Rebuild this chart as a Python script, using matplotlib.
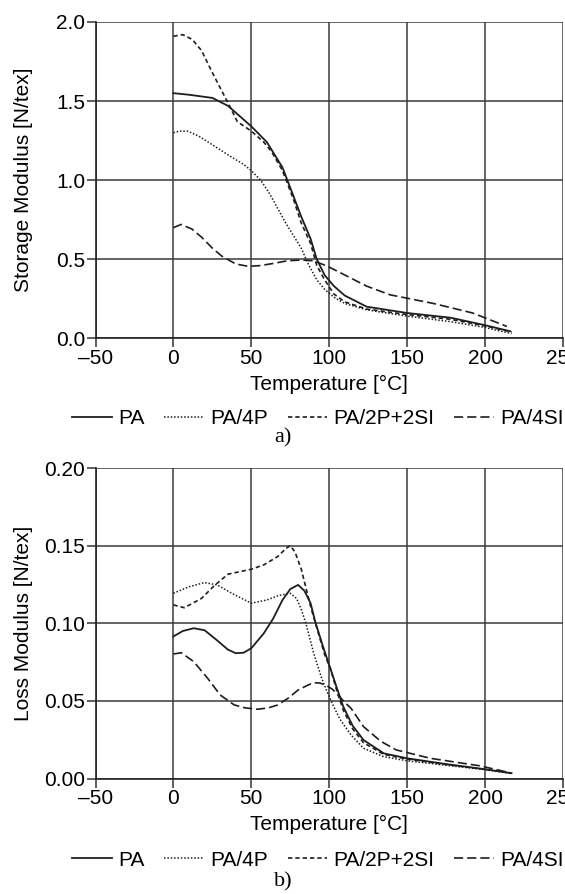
import matplotlib
matplotlib.use("Agg")
import matplotlib.pyplot as plt

# ---------------- data ----------------
series_names = ["PA", "PA/4P", "PA/2P+2SI", "PA/4SI"]

# Storage modulus (N/tex)
sm_pa_T = [0, 10, 25, 35, 50, 60, 70, 77, 82, 88, 92, 97, 103, 110, 124, 150, 178, 199, 216]
sm_pa_E = [1.55, 1.54, 1.52, 1.47, 1.34, 1.24, 1.08, 0.90, 0.77, 0.63, 0.50, 0.40, 0.33, 0.27, 0.20, 0.16, 0.13, 0.085, 0.045]

sm_4p_T = [0, 4, 9, 16, 24, 35, 45, 50, 56, 62, 67, 72, 77, 82, 87, 92, 97, 103, 110, 124, 150, 178, 199, 217]
sm_4p_E = [1.30, 1.31, 1.31, 1.28, 1.23, 1.16, 1.10, 1.06, 1.00, 0.91, 0.82, 0.73, 0.65, 0.57, 0.46, 0.37, 0.31, 0.26, 0.22, 0.18, 0.14, 0.105, 0.07, 0.03]

sm_2p2si_T = [0, 6, 12, 18, 26, 36, 41, 50, 58, 63, 70, 77, 82, 88, 92, 97, 103, 110, 124, 150, 178, 199, 217]
sm_2p2si_E = [1.91, 1.92, 1.89, 1.82, 1.66, 1.47, 1.37, 1.31, 1.24, 1.18, 1.06, 0.88, 0.73, 0.60, 0.46, 0.37, 0.28, 0.23, 0.185, 0.15, 0.12, 0.08, 0.04]

sm_4si_T = [0, 5, 12, 18, 25, 31, 40, 48, 56, 65, 73, 82, 90, 99, 110, 124, 139, 167, 192, 214]
sm_4si_E = [0.70, 0.72, 0.69, 0.64, 0.57, 0.52, 0.47, 0.455, 0.46, 0.475, 0.49, 0.495, 0.49, 0.455, 0.40, 0.33, 0.275, 0.22, 0.16, 0.075]

# Loss modulus (N/tex)
lm_pa_T = [0, 6, 13, 20, 28, 35, 40, 45, 50, 58, 64, 70, 75, 80, 84, 88, 91, 96, 101, 105, 109, 115, 122, 135, 150, 175, 199, 217]
lm_pa_E = [0.0915, 0.095, 0.0968, 0.0955, 0.089, 0.083, 0.0807, 0.081, 0.0839, 0.0935, 0.103, 0.115, 0.122, 0.1247, 0.121, 0.113, 0.101, 0.085, 0.070, 0.058, 0.0463, 0.034, 0.0248, 0.0162, 0.013, 0.0093, 0.0061, 0.0034]

lm_4p_T = [0, 10, 20, 28, 38, 50, 60, 68, 75, 79, 82, 85, 90, 95, 99, 103, 107, 114, 122, 135, 150, 175, 199, 217]
lm_4p_E = [0.1193, 0.1235, 0.1262, 0.1247, 0.119, 0.1129, 0.115, 0.118, 0.1193, 0.116, 0.109, 0.100, 0.0807, 0.065, 0.0549, 0.046, 0.038, 0.028, 0.0195, 0.014, 0.0114, 0.0085, 0.0058, 0.0032]

lm_2p2si_T = [0, 7, 18, 26, 35, 50, 58, 67, 72, 75, 78, 82, 88, 92, 97, 101, 105, 109, 115, 122, 135, 150, 175, 199, 217]
lm_2p2si_E = [0.1118, 0.110, 0.116, 0.124, 0.1316, 0.1348, 0.1376, 0.143, 0.148, 0.150, 0.146, 0.135, 0.111, 0.097, 0.080, 0.070, 0.056, 0.044, 0.032, 0.023, 0.0155, 0.0125, 0.009, 0.006, 0.0035]

lm_4si_T = [0, 5, 13, 22, 30, 39, 46, 54, 61, 67, 74, 80, 86, 90, 94, 98, 102, 105, 110, 114, 122, 133, 143, 165, 197, 216]
lm_4si_E = [0.0802, 0.081, 0.0753, 0.0645, 0.0538, 0.0474, 0.0455, 0.0446, 0.0455, 0.0474, 0.052, 0.057, 0.060, 0.0617, 0.0615, 0.060, 0.0575, 0.0545, 0.049, 0.0452, 0.0334, 0.024, 0.0184, 0.013, 0.0081, 0.0037]

x_ticks = [-50, 0, 50, 100, 150, 200, 250]
sm_ticks = [0.0, 0.5, 1.0, 1.5, 2.0]
lm_ticks = [0.00, 0.05, 0.10, 0.15, 0.20]

# ---------------- styling ----------------
plt.rcParams['font.family'] = ['Liberation Sans', 'DejaVu Sans']
FS = 15
LC = '#1e1e1e'
styles = {
    "PA": dict(linestyle='-', lw=1.3),
    "PA/4P": dict(linestyle=(0, (1.0, 1.2)), lw=1.1),
    "PA/2P+2SI": dict(linestyle=(0, (2.6, 1.8)), lw=1.2),
    "PA/4SI": dict(linestyle=(0, (5.5, 2.4)), lw=1.2),
}

fig = plt.figure(figsize=(5.65, 8.94), dpi=100)
L, R = 95.5 / 565, 563 / 565
ax1 = fig.add_axes([L, 1 - 338.3 / 894, R - L, (338.3 - 22) / 894])
ax2 = fig.add_axes([L, 1 - 778.5 / 894, R - L, (778.5 - 468) / 894])

top_data = [(sm_pa_T, sm_pa_E), (sm_4p_T, sm_4p_E), (sm_2p2si_T, sm_2p2si_E), (sm_4si_T, sm_4si_E)]
bot_data = [(lm_pa_T, lm_pa_E), (lm_4p_T, lm_4p_E), (lm_2p2si_T, lm_2p2si_E), (lm_4si_T, lm_4si_E)]


def setup(ax, yticks, fmt, ylabel):
    ax.set_xlim(-50, 250)
    ax.set_ylim(yticks[0], yticks[-1])
    ax.set_xticks(x_ticks)
    ax.set_yticks(yticks)
    ax.set_xticklabels([("\u2013" + str(abs(t))) if t < 0 else str(t) for t in x_ticks], fontsize=FS)
    ax.set_yticklabels([fmt.format(t) for t in yticks], fontsize=FS)
    ax.grid(True, color='#3a3a3a', lw=1.1)
    ax.set_axisbelow(True)
    for s in ['top', 'right']:
        ax.spines[s].set_visible(False)
    for s in ['left', 'bottom']:
        ax.spines[s].set_color('#222222')
        ax.spines[s].set_linewidth(1.2)
    ax.tick_params(axis='both', direction='out', length=6.5, width=1.1, color='#333333', pad=1)
    ax.set_xlabel("Temperature [\u00b0C]", fontsize=FS, labelpad=5)
    ax.set_ylabel(ylabel, fontsize=FS)
    ax.yaxis.set_label_coords((33 - 95.5) / 467.5, 0.5)


lines = []
for (T, E), name in zip(top_data, series_names):
    ln, = ax1.plot(T, E, color=LC, label=name, clip_on=False, **styles[name])
    lines.append(ln)
for (T, E), name in zip(bot_data, series_names):
    ax2.plot(T, E, color=LC, label=name, clip_on=False, **styles[name])

setup(ax1, sm_ticks, "{:.1f}", "Storage Modulus [N/tex]")
setup(ax2, lm_ticks, "{:.2f}", "Loss Modulus [N/tex]")

for ypix in (419, 860):
    fig.legend(lines, series_names, loc='center', bbox_to_anchor=(318 / 565, 1 - ypix / 894),
               ncol=4, frameon=False, fontsize=FS, handlelength=1.9, handletextpad=0.3,
               columnspacing=0.95, borderaxespad=0, borderpad=0)

fig.text(283 / 565, 1 - 438 / 894, "a)", family=['Liberation Serif'], fontsize=16, ha='center', va='center')
fig.text(283 / 565, 1 - 882 / 894, "b)", family=['Liberation Serif'], fontsize=16, ha='center', va='center')

fig.savefig("out.png", dpi=100)
